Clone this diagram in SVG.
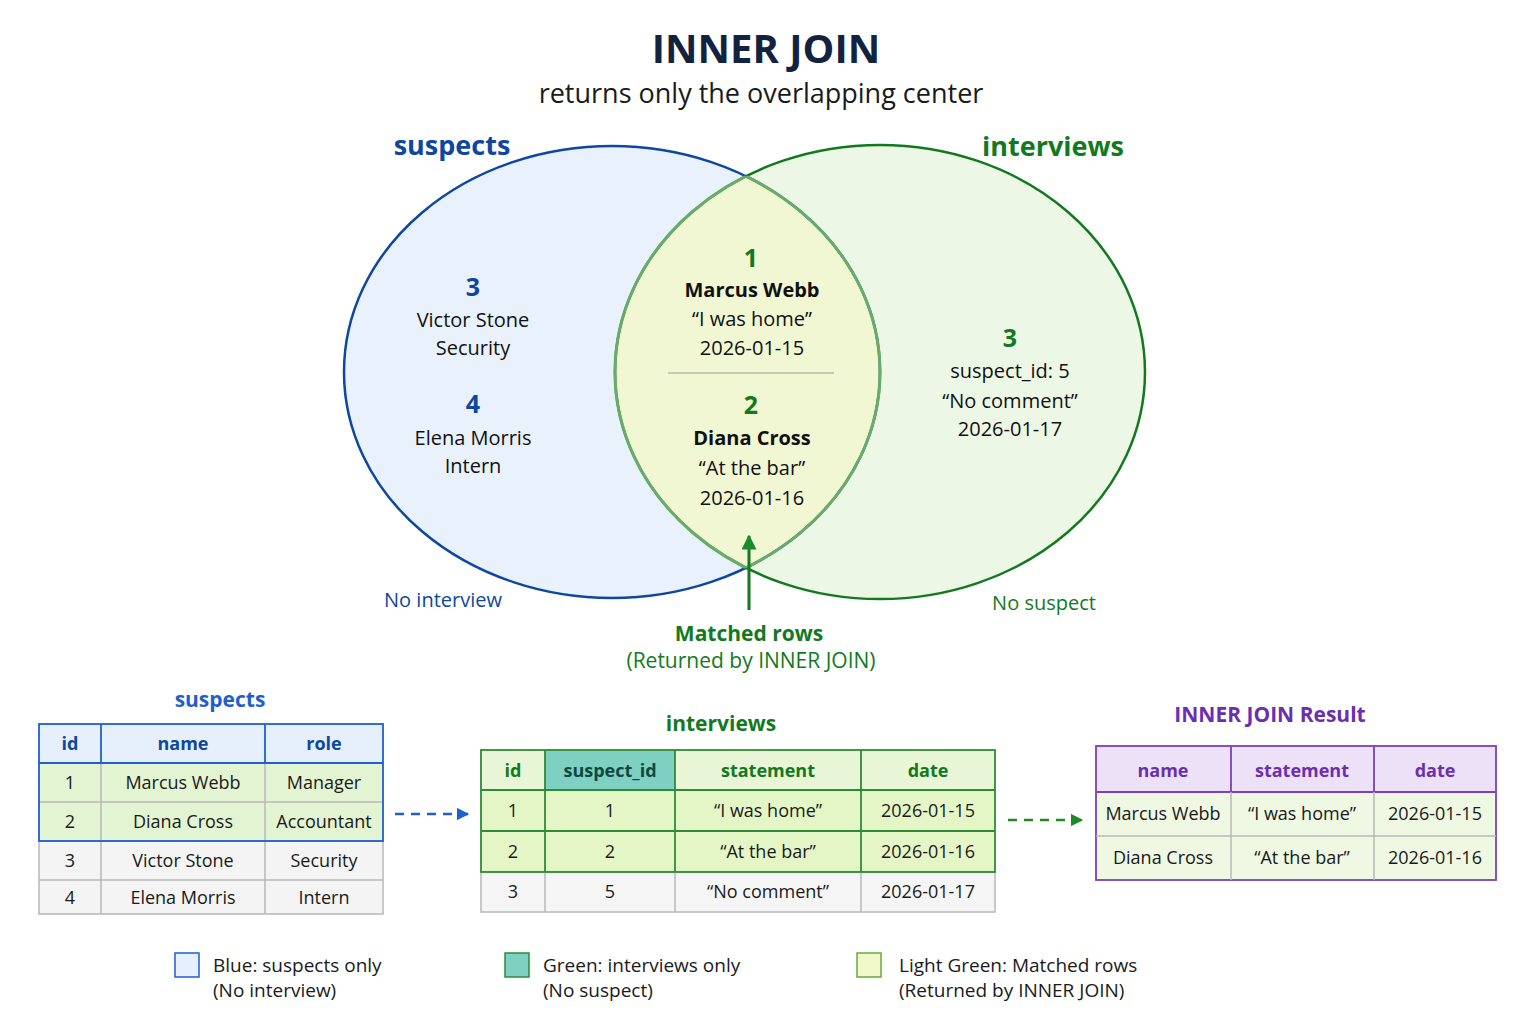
<svg xmlns="http://www.w3.org/2000/svg" width="1536" height="1024" viewBox="0 0 1536 1024">
<style>
text{font-family:"Open Sans","Noto Sans",sans-serif;text-anchor:middle}
.b{font-weight:bold}
.blue{fill:#0d47a1}
.green{fill:#127a1e}
.dk{fill:#111}
.t{font-size:18px;fill:#1a1a1a}
.h{font-size:18px;font-weight:bold}
.g{stroke:#b8b8b8;stroke-width:1.5}
</style>
<defs>
<marker id="ab" viewBox="0 0 10 10" refX="9" refY="5" markerWidth="5" markerHeight="5" orient="auto"><path d="M0,0L10,5L0,10z" fill="#1f5fcf"/></marker>
<marker id="ag" viewBox="0 0 10 10" refX="9" refY="5" markerWidth="5" markerHeight="5" orient="auto"><path d="M0,0L10,5L0,10z" fill="#1a8a2a"/></marker>
<clipPath id="cr"><ellipse cx="880" cy="372" rx="265" ry="227"/></clipPath>
<clipPath id="cl"><ellipse cx="612" cy="372" rx="268" ry="226"/></clipPath>
</defs>
<rect width="1536" height="1024" fill="#fff"/>
<text x="766" y="63" font-size="40" class="b" fill="#13233f">INNER JOIN</text>
<text x="761" y="103" font-size="27" fill="#1a1a1a">returns only the overlapping center</text>

<g id="venn">
<ellipse cx="612" cy="372" rx="268" ry="226" fill="#e8f1fc"/>
<ellipse cx="880" cy="372" rx="265" ry="227" fill="#edf7e6"/>
<ellipse cx="612" cy="372" rx="268" ry="226" fill="#f0f7d2" clip-path="url(#cr)"/>
<ellipse cx="612" cy="372" rx="268" ry="226" fill="none" stroke="#0d47a1" stroke-width="2.5"/>
<ellipse cx="880" cy="372" rx="265" ry="227" fill="none" stroke="#127a1e" stroke-width="2.5"/>
<g clip-path="url(#cr)"><ellipse cx="612" cy="372" rx="268" ry="226" fill="none" stroke="#6aaa6a" stroke-width="3"/></g>
<g clip-path="url(#cl)"><ellipse cx="880" cy="372" rx="265" ry="227" fill="none" stroke="#6aaa6a" stroke-width="3"/></g>
<text x="452" y="155" font-size="27" class="b blue">suspects</text>
<text x="1053" y="156" font-size="27" class="b green">interviews</text>
<text x="473" y="296" font-size="25" class="b blue">3</text>
<text x="473" y="327" font-size="20" class="dk">Victor Stone</text>
<text x="473" y="355" font-size="20" class="dk">Security</text>
<text x="473" y="413" font-size="25" class="b blue">4</text>
<text x="473" y="445" font-size="20" class="dk">Elena Morris</text>
<text x="473" y="473" font-size="20" class="dk">Intern</text>
<text x="751" y="267" font-size="25" class="b green">1</text>
<text x="752" y="297" font-size="20" class="b dk">Marcus Webb</text>
<text x="752" y="326" font-size="20" class="dk">“I was home”</text>
<text x="752" y="355" font-size="20" class="dk">2026-01-15</text>
<line x1="668" y1="373" x2="834" y2="373" stroke="#999" stroke-width="1.2"/>
<text x="751" y="414" font-size="25" class="b green">2</text>
<text x="752" y="445" font-size="20" class="b dk">Diana Cross</text>
<text x="752" y="475" font-size="20" class="dk">“At the bar”</text>
<text x="752" y="505" font-size="20" class="dk">2026-01-16</text>
<text x="1010" y="347" font-size="25" class="b green">3</text>
<text x="1010" y="378" font-size="20" class="dk">suspect_id: 5</text>
<text x="1010" y="408" font-size="20" class="dk">“No comment”</text>
<text x="1010" y="436" font-size="20" class="dk">2026-01-17</text>
<text x="443" y="607" font-size="20" fill="#0d47a1">No interview</text>
<text x="1044" y="610" font-size="20" fill="#127a1e">No suspect</text>
<text x="749" y="641" font-size="21" class="b green">Matched rows</text>
<text x="751" y="668" font-size="21" class="green">(Returned by INNER JOIN)</text>
</g>

<g id="connectors">
<line x1="749" y1="610" x2="749" y2="536" stroke="#127a1e" stroke-width="3" marker-end="url(#ag)"/>
<line x1="395" y1="814" x2="468" y2="814" stroke="#1f5fcf" stroke-width="2.5" stroke-dasharray="9,7" marker-end="url(#ab)"/>
<line x1="1008" y1="820" x2="1082" y2="820" stroke="#1a8a2a" stroke-width="2.5" stroke-dasharray="9,7" marker-end="url(#ag)"/>
</g>

<g id="suspects-table">
<text x="220" y="707" font-size="21" class="b" fill="#1f5fcf">suspects</text>
<rect x="39" y="724" width="344" height="39" fill="#e6f0fc"/>
<rect x="39" y="763" width="344" height="78" fill="#e2f4d2"/>
<rect x="39" y="841" width="344" height="73" fill="#f4f4f4"/>
<g class="g" fill="none">
<rect x="39" y="841" width="344" height="73"/>
<line x1="39" y1="880" x2="383" y2="880"/>
<line x1="101" y1="841" x2="101" y2="914"/><line x1="265" y1="841" x2="265" y2="914"/>
<line x1="39" y1="802" x2="383" y2="802"/>
<line x1="101" y1="763" x2="101" y2="841"/><line x1="265" y1="763" x2="265" y2="841"/>
</g>
<g stroke="#1f5fcf" stroke-width="1.8" fill="none">
<rect x="39" y="724" width="344" height="117"/>
<line x1="39" y1="763" x2="383" y2="763"/>
<line x1="101" y1="724" x2="101" y2="763"/><line x1="265" y1="724" x2="265" y2="763"/>
</g>
<g class="h blue"><text x="70" y="750">id</text><text x="183" y="750">name</text><text x="324" y="750">role</text></g>
<g class="t">
<text x="70" y="789">1</text><text x="183" y="789">Marcus Webb</text><text x="324" y="789">Manager</text>
<text x="70" y="828">2</text><text x="183" y="828">Diana Cross</text><text x="324" y="828">Accountant</text>
<text x="70" y="867">3</text><text x="183" y="867">Victor Stone</text><text x="324" y="867">Security</text>
<text x="70" y="904">4</text><text x="183" y="904">Elena Morris</text><text x="324" y="904">Intern</text>
</g>
</g>

<g id="interviews-table">
<text x="721" y="731" font-size="21" class="b green">interviews</text>
<rect x="481" y="750" width="514" height="40" fill="#e8f5d6"/>
<rect x="545" y="750" width="130" height="40" fill="#7fd0c2"/>
<rect x="481" y="790" width="514" height="82" fill="#e5f6c6"/>
<rect x="481" y="872" width="514" height="40" fill="#f5f5f5"/>
<g class="g" fill="none">
<rect x="481" y="872" width="514" height="40"/>
<line x1="545" y1="872" x2="545" y2="912"/><line x1="675" y1="872" x2="675" y2="912"/><line x1="861" y1="872" x2="861" y2="912"/>
</g>
<g stroke="#2e8b3a" stroke-width="1.8" fill="none">
<rect x="481" y="750" width="514" height="122"/>
<line x1="481" y1="790" x2="995" y2="790"/><line x1="481" y1="831" x2="995" y2="831"/>
<line x1="545" y1="750" x2="545" y2="872"/><line x1="675" y1="750" x2="675" y2="872"/><line x1="861" y1="750" x2="861" y2="872"/>
</g>
<g class="h green"><text x="513" y="777">id</text><text x="610" y="777" fill="#0d4a40">suspect_id</text><text x="768" y="777">statement</text><text x="928" y="777">date</text></g>
<g class="t">
<text x="513" y="817">1</text><text x="610" y="817">1</text><text x="768" y="817">“I was home”</text><text x="928" y="817">2026-01-15</text>
<text x="513" y="858">2</text><text x="610" y="858">2</text><text x="768" y="858">“At the bar”</text><text x="928" y="858">2026-01-16</text>
<text x="513" y="898">3</text><text x="610" y="898">5</text><text x="768" y="898">“No comment”</text><text x="928" y="898">2026-01-17</text>
</g>
</g>

<g id="result-table">
<text x="1270" y="722" font-size="21" class="b" fill="#6a2fb0">INNER JOIN Result</text>
<rect x="1096" y="746" width="400" height="46" fill="#ede1f8"/>
<rect x="1096" y="792" width="400" height="88" fill="#eef8e2"/>
<g stroke="#7b3fbf" stroke-width="1.8" fill="none">
<rect x="1096" y="746" width="400" height="134"/>
<line x1="1096" y1="792" x2="1496" y2="792"/>
<line x1="1231" y1="746" x2="1231" y2="792"/><line x1="1374" y1="746" x2="1374" y2="792"/>
</g>
<g class="g" fill="none">
<line x1="1096" y1="836" x2="1496" y2="836"/>
<line x1="1231" y1="792" x2="1231" y2="880"/><line x1="1374" y1="792" x2="1374" y2="880"/>
</g>
<g class="h" fill="#6a2fb0"><text x="1163" y="777">name</text><text x="1302" y="777">statement</text><text x="1435" y="777">date</text></g>
<g class="t">
<text x="1163" y="820">Marcus Webb</text><text x="1302" y="820">“I was home”</text><text x="1435" y="820">2026-01-15</text>
<text x="1163" y="864">Diana Cross</text><text x="1302" y="864">“At the bar”</text><text x="1435" y="864">2026-01-16</text>
</g>
</g>

<g id="legend">
<rect x="175" y="953" width="24" height="24" fill="#e6f0fc" stroke="#1f5fcf" stroke-width="1.5"/>
<text x="213" y="972" font-size="19" fill="#1a1a1a" style="text-anchor:start">Blue: suspects only</text>
<text x="213" y="997" font-size="19" fill="#1a1a1a" style="text-anchor:start">(No interview)</text>
<rect x="505" y="953" width="24" height="24" fill="#7fd0c2" stroke="#2e8b3a" stroke-width="1.5"/>
<text x="543" y="972" font-size="19" fill="#1a1a1a" style="text-anchor:start">Green: interviews only</text>
<text x="543" y="997" font-size="19" fill="#1a1a1a" style="text-anchor:start">(No suspect)</text>
<rect x="857" y="953" width="24" height="24" fill="#f0f7c8" stroke="#6aaa3a" stroke-width="1.5"/>
<text x="899" y="972" font-size="19" fill="#1a1a1a" style="text-anchor:start">Light Green: Matched rows</text>
<text x="899" y="997" font-size="19" fill="#1a1a1a" style="text-anchor:start">(Returned by INNER JOIN)</text>
</g>
</svg>
